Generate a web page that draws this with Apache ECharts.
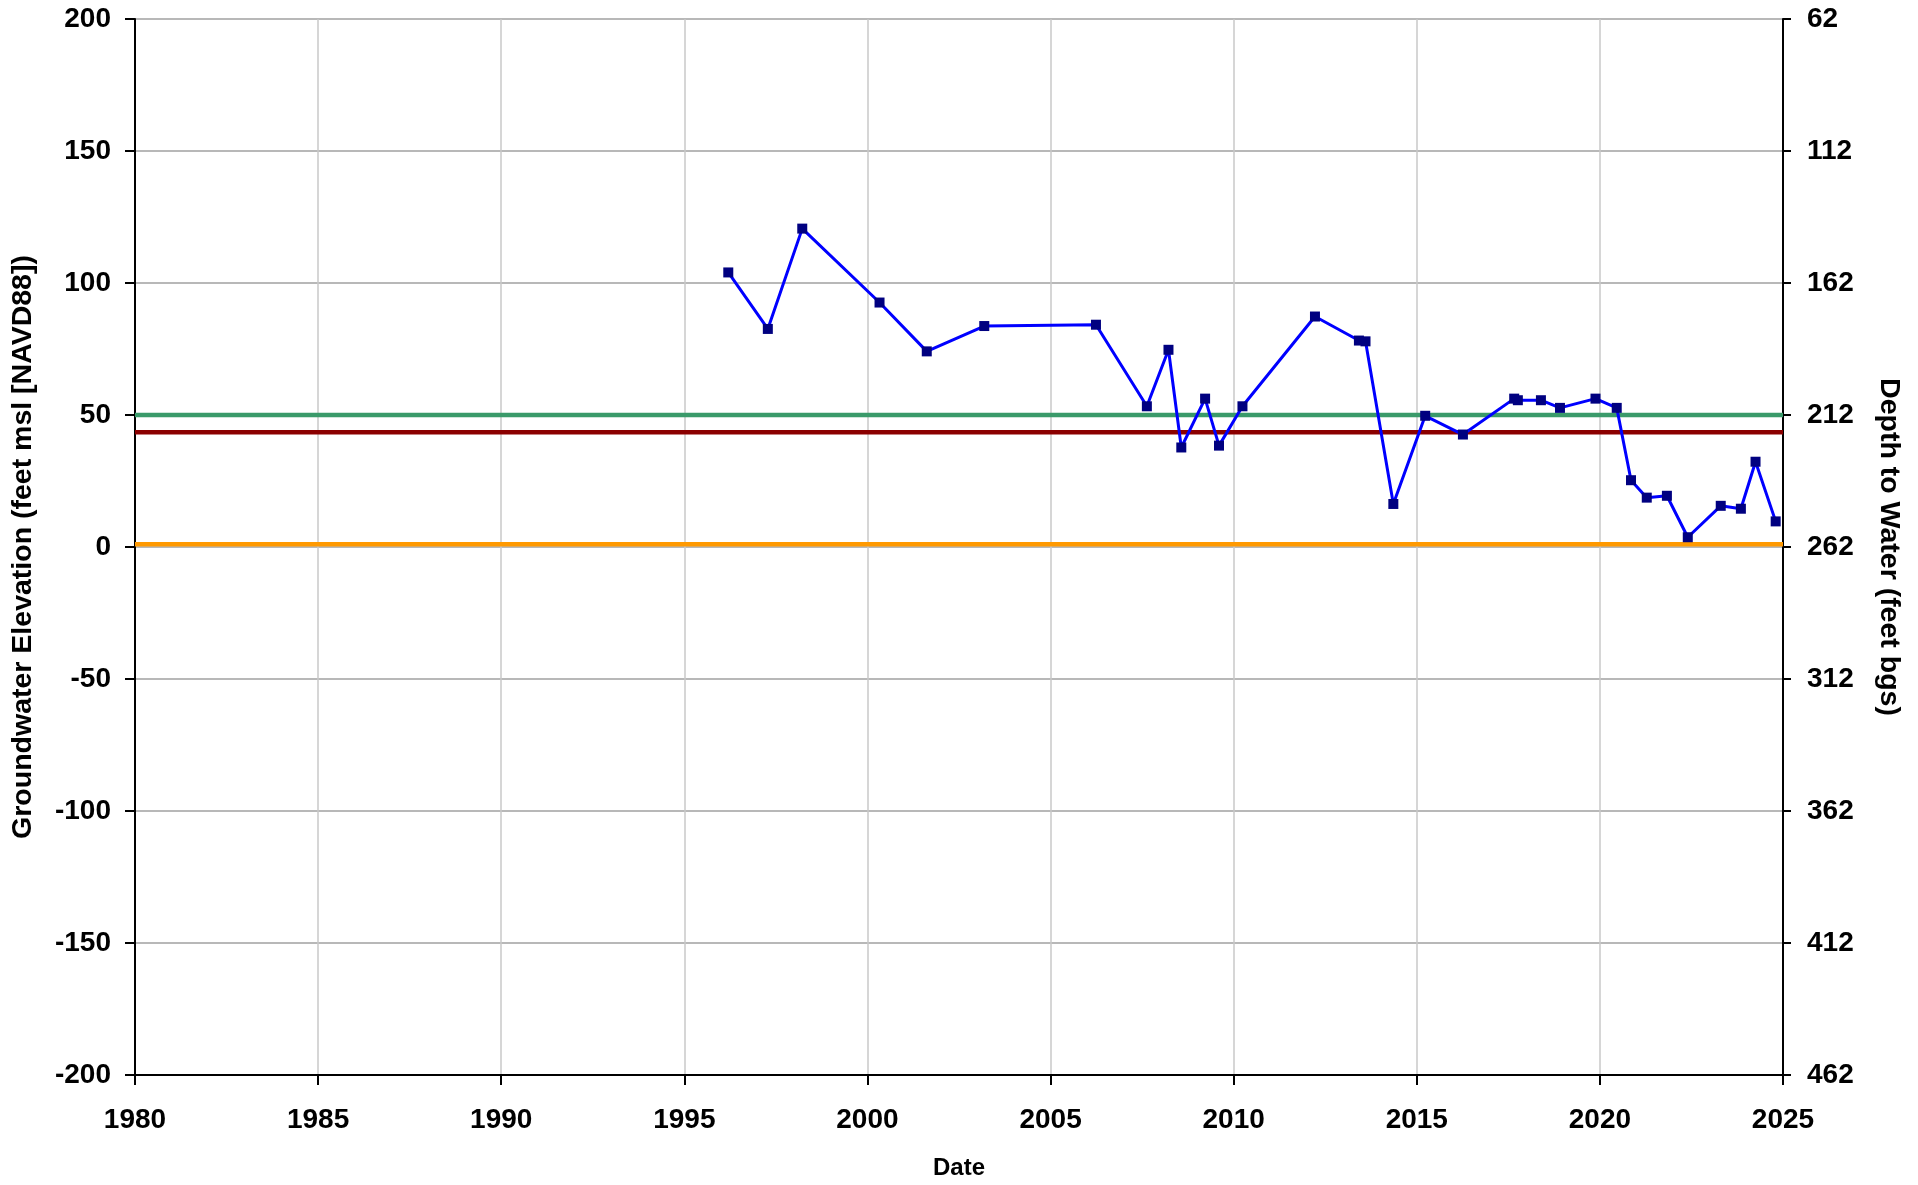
<!DOCTYPE html>
<html>
<head>
<meta charset="utf-8">
<script src="https://cdn.jsdelivr.net/npm/echarts@6/dist/echarts.min.js"></script>
<style>
html,body{margin:0;padding:0;background:#fff;overflow:hidden;}
#chart{width:1918px;height:1185px;}
</style>
</head>
<body>
<div id="chart"></div>
<script>
// Measurement dates (decimal years)
const dates = [1996.20, 1997.28, 1998.22, 2000.33, 2001.62, 2003.19, 2006.24, 2007.63, 2008.22, 2008.57,
  2009.22, 2009.60, 2010.24, 2012.22, 2013.42, 2013.60, 2014.36, 2015.23, 2016.26, 2017.66,
  2017.76, 2018.39, 2018.91, 2019.88, 2020.46, 2020.85, 2021.28, 2021.83, 2022.40, 2023.30,
  2023.85, 2024.25, 2024.80];
// Groundwater elevation (feet msl)
const elevations = [104.0, 82.6, 120.6, 92.6, 74.1, 83.7, 84.2, 53.3, 74.7, 37.7,
  56.2, 38.4, 53.3, 87.3, 78.2, 77.9, 16.3, 49.7, 42.6, 56.2,
  55.6, 55.6, 52.7, 56.2, 52.7, 25.3, 18.7, 19.4, 3.7, 15.6,
  14.5, 32.3, 9.7];
// Horizontal reference levels (feet msl)
const refNames = ['Level A', 'Level B', 'Level C'];
const refLevels = [50, 43.5, 1];
const refColors = ['#3a9a6a', '#8b0000', '#ff9900'];
// Axis ranges
const xRange = [1980, 2025];
const leftRange = [-200, 200];
const rightRange = [62, 462];

const FONT = 'Liberation Sans, Arial, sans-serif';
const series = [];
refLevels.forEach((lv, i) => {
  series.push({
    name: refNames[i], type: 'line', symbol: 'none', silent: true,
    data: [[xRange[0], lv], [xRange[1], lv]],
    lineStyle: { color: refColors[i], width: 4.5 }, z: 2
  });
});
series.push({
  name: 'Groundwater Elevation', type: 'line',
  data: dates.map((d, i) => [d, elevations[i]]),
  symbol: 'rect', symbolSize: 10,
  itemStyle: { color: '#000080' },
  lineStyle: { color: '#0000ff', width: 3 }, z: 5
});

const chart = echarts.init(document.getElementById('chart'));
chart.setOption({
  animation: false,
  backgroundColor: '#fff',
  grid: { left: 135, width: 1648, top: 19, height: 1060, containLabel: false },
  xAxis: {
    type: 'value', min: xRange[0], max: xRange[1], interval: 5,
    name: 'Date', nameLocation: 'middle', nameGap: 81,
    nameTextStyle: { fontFamily: FONT, fontWeight: 'bold', fontSize: 24, color: '#000' },
    axisLine: { show: true, onZero: false, lineStyle: { color: '#000', width: 2 } },
    axisTick: { show: true, inside: false, length: 10, lineStyle: { color: '#000', width: 2 } },
    axisLabel: { margin: 31, fontFamily: FONT, fontWeight: 'bold', fontSize: 28, color: '#000', formatter: v => String(v) },
    splitLine: { show: true, lineStyle: { color: '#c8c8c8', width: 1.5 } }
  },
  yAxis: [{
    type: 'value', position: 'left', min: leftRange[0], max: leftRange[1], interval: 50,
    name: 'Groundwater Elevation (feet msl [NAVD88])', nameLocation: 'middle', nameGap: 97, nameRotate: 90,
    nameTextStyle: { fontFamily: FONT, fontWeight: 'bold', fontSize: 28.5, color: '#000' },
    axisLine: { show: true, onZero: false, lineStyle: { color: '#000', width: 2 } },
    axisTick: { show: true, inside: false, length: 10, lineStyle: { color: '#000', width: 2 } },
    axisLabel: { margin: 24, fontFamily: FONT, fontWeight: 'bold', fontSize: 28, color: '#000' },
    splitLine: { show: true, lineStyle: { color: '#a0a0a0', width: 1.5 } }
  }, {
    type: 'value', position: 'right', min: rightRange[0], max: rightRange[1], interval: 50, inverse: true,
    name: 'Depth to Water (feet bgs)', nameLocation: 'middle', nameGap: 91, nameRotate: -90,
    nameTextStyle: { fontFamily: FONT, fontWeight: 'bold', fontSize: 28.5, color: '#000' },
    axisLine: { show: true, onZero: false, lineStyle: { color: '#000', width: 2 } },
    axisTick: { show: true, inside: false, length: 8, lineStyle: { color: '#000', width: 2 } },
    axisLabel: { margin: 24, fontFamily: FONT, fontWeight: 'bold', fontSize: 28, color: '#000' },
    splitLine: { show: false }
  }],
  series: series
});
</script>
</body>
</html>
